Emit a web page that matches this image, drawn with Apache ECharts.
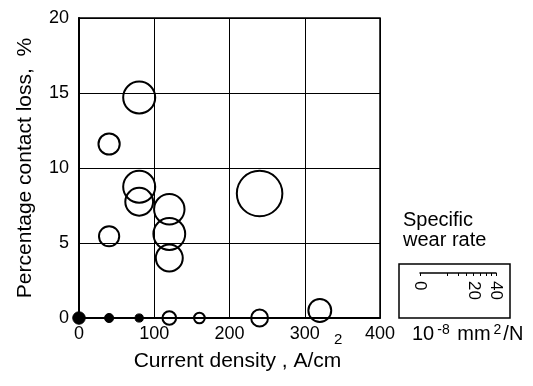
<!DOCTYPE html>
<html>
<head>
<meta charset="utf-8">
<script src="https://cdn.jsdelivr.net/npm/echarts@6/dist/echarts.min.js"></script>
<style>html,body{margin:0;padding:0;background:#fff}#c{width:533px;height:386px}</style>
</head>
<body>
<div id="c"></div>
<script>
// Current density (A/cm^2), contact loss (%), specific wear rate (10^-8 mm^2/N)
var openX    = [80, 40, 80, 80, 120, 120, 120, 40, 240, 320, 120, 160, 240];
var openY    = [14.7, 11.6, 8.75, 7.75, 7.25, 5.6, 4.0, 5.45, 8.3, 0.5, 0, 0, 0];
var openWear = [19.8, 8.7, 19.8, 14.9, 17.9, 19.5, 14.0, 7.9, 40, 10.1, 3.6, 2.2, 5.5];
var filledX    = [0, 40, 80];
var filledY    = [0, 0, 0];
var filledWear = [3.0, 1.6, 1.3];
var xTicks = [0, 100, 200, 300, 400];
var yTicks = [0, 5, 10, 15, 20];
var legendTicks = [0, 5, 10, 15, 20, 25, 30, 35, 40];
var legendLabels = [0, 20, 40];

var SIZE_K = 7.2;
function sz(v){ return SIZE_K * Math.sqrt(v[2]); }
function zip(xs, ys, ws){ return xs.map(function(x,i){ return [x, ys[i], ws[i]]; }); }
var font = 'Liberation Sans, Arial, sans-serif';
var chart = echarts.init(document.getElementById('c'), null, {renderer:'canvas'});
chart.setOption({
  animation: false,
  backgroundColor: '#fff',
  grid: [
    {left: 79, top: 18, width: 301, height: 300, show: true, borderColor: '#000', borderWidth: 1.5, backgroundColor: 'transparent'},
    {left: 420, top: 272, width: 76, height: 1}
  ],
  xAxis: [{
    gridIndex: 0, type: 'value', min: xTicks[0], max: xTicks[xTicks.length-1], interval: 100,
    axisLine: {show: true, onZero: false, lineStyle: {color: '#000', width: 2}},
    axisTick: {show: false},
    splitLine: {show: true, lineStyle: {color: '#000', width: 1}},
    axisLabel: {color: '#000', fontSize: 18, fontFamily: font, margin: 7},
    name: 'Current density , A/cm', nameLocation: 'middle', nameGap: 33,
    nameTextStyle: {color: '#000', fontSize: 21, fontFamily: font, padding: [0, 0, 0, 16]}
  }, {
    gridIndex: 1, type: 'value', position: 'bottom',
    min: 0, max: Math.sqrt(legendTicks[legendTicks.length-1]),
    axisLine: {show: true, lineStyle: {color: '#000', width: 1.5}},
    axisTick: {show: true, length: 3, lineStyle: {color: '#000', width: 1},
      customValues: legendTicks.map(function(t){ return Math.sqrt(t); })},
    axisLabel: {show: true, color: '#000', fontSize: 17, fontFamily: font, rotate: -90, margin: 8,
      customValues: legendLabels.map(function(t){ return Math.sqrt(t); }),
      formatter: function(v){ return String(Math.round(v*v)); }},
    splitLine: {show: false}
  }],
  yAxis: [{
    gridIndex: 0, type: 'value', min: yTicks[0], max: yTicks[yTicks.length-1], interval: 5,
    axisLine: {show: true, onZero: false, lineStyle: {color: '#000', width: 2}},
    axisTick: {show: false},
    splitLine: {show: true, lineStyle: {color: '#000', width: 1}},
    axisLabel: {color: '#000', fontSize: 18, fontFamily: font, margin: 10},
    name: 'Percentage contact loss,  %', nameLocation: 'middle', nameGap: 43,
    nameTextStyle: {color: '#000', fontSize: 21, fontFamily: font}
  }, {
    gridIndex: 1, type: 'value', show: false, min: 0, max: 1
  }],
  graphic: [
    {type: 'rect', shape: {x: 399, y: 264, width: 111, height: 54},
     style: {fill: 'none', stroke: '#000', lineWidth: 1.5}, z: 1},
    {type: 'text', left: 334, top: 332,
     style: {text: '2', fill: '#000', font: '15px ' + font}},
    {type: 'text', left: 403, top: 210,
     style: {text: 'Specific\nwear rate', fill: '#000', font: '20px ' + font, lineHeight: 20}},
    {type: 'text', left: 412, top: 323,
     style: {text: '10{sup|-8} mm{sup|2}/N', fill: '#000', font: '20px ' + font,
       rich: {sup: {fontSize: 14, fontFamily: font, fill: '#000', verticalAlign: 'bottom', padding: [0,2,9,3]}}}}
  ],
  series: [{
    type: 'scatter', xAxisIndex: 0, yAxisIndex: 0, clip: false,
    data: zip(openX, openY, openWear), symbol: 'circle', symbolSize: sz,
    itemStyle: {color: 'rgba(0,0,0,0)', borderColor: '#000', borderWidth: 2, opacity: 1}, z: 5
  }, {
    type: 'scatter', xAxisIndex: 0, yAxisIndex: 0, clip: false,
    data: zip(filledX, filledY, filledWear), symbol: 'circle', symbolSize: sz,
    itemStyle: {color: '#000', borderColor: '#000', borderWidth: 1, opacity: 1}, z: 6
  }]
});
</script>
</body>
</html>
